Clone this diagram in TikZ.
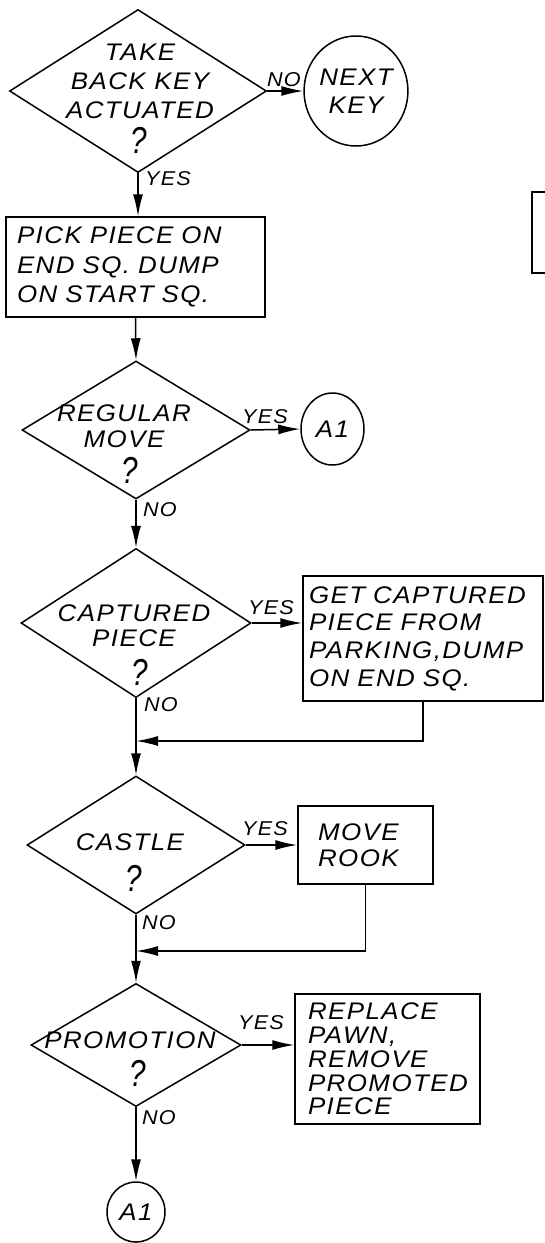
\documentclass[tikz,border=0pt]{standalone}
\usepackage{fontspec}
\setmainfont{Liberation Sans}
\newfontfamily\hand[FakeStretch=1.08,LetterSpace=6]{Liberation Sans}
\usetikzlibrary{shapes.geometric,arrows.meta}
\newcommand{\hf}[2]{\hand\itshape\fontsize{#1}{#2}\selectfont}
\newcommand{\qmk}{\scalebox{1.1}[1.5]{?}}
\begin{document}
\begin{tikzpicture}[x=1pt,y=-1pt,line width=1.5pt,
  dec/.style={draw,shape=diamond,inner sep=0pt},
  proc/.style={draw,rectangle,align=left,inner ysep=0pt},
  term/.style={draw,ellipse,inner sep=0pt,align=center,font=\hf{24}{28}},
  txt/.style={inner sep=0pt,align=center},
  qm/.style={inner sep=0pt,font=\hf{25}{25}},
  lbl/.style={inner sep=0pt,font=\hf{20}{20}},
  flow/.style={-{Latex[length=22pt,width=10pt]}}]
\useasboundingbox (0,0) rectangle (545,1243);

% decisions
\node[dec,minimum width=257pt,minimum height=163pt] (d1) at (138,91) {};
\node[txt,font=\hf{24}{29}] (d1t) at (140,81) {TAKE\\BACK KEY\\ACTUATED};
\node[qm] (d1q) at (139,140) {\qmk};

\node[term,minimum width=102pt,minimum height=110pt] (nk) at (356,91) {NEXT\\KEY};

\node[proc,minimum width=259pt,minimum height=100pt,inner xsep=11pt,text width=237pt,font=\hf{24}{29.5}] (b1) at (135.5,267) {PICK PIECE ON\\END SQ. DUMP\\ON START SQ.};

\node[dec,minimum width=228pt,minimum height=138pt] (d2) at (136,430) {};
\node[txt,font=\hf{24}{26}] (d2t) at (124,426) {REGULAR\\MOVE};
\node[qm] (d2q) at (130,470) {\qmk};
\node[term,minimum width=63pt,minimum height=72pt] (a1) at (332.5,429) {A1};

\node[dec,minimum width=230pt,minimum height=149pt] (d3) at (136,623) {};
\node[txt,font=\hf{24}{25}] (d3t) at (134,625.5) {CAPTURED\\PIECE};
\node[qm] (d3q) at (140,672) {\qmk};

\node[proc,minimum width=240pt,minimum height=125pt,inner xsep=6pt,text width=228pt,font=\hf{24}{27.7}] (b2) at (423,638.5) {GET CAPTURED\\PIECE FROM\\PARKING,DUMP\\ON END SQ.};

\node[dec,minimum width=218pt,minimum height=138pt] (d4) at (136,845) {};
\node[txt,font=\hf{24}{26}] (d4t) at (130,842) {CASTLE};
\node[qm] (d4q) at (134,878) {\qmk};

\node[proc,minimum width=135pt,minimum height=78pt,inner xsep=20pt,text width=95pt,font=\hf{24}{26}] (b3) at (365.5,845) {MOVE\\ROOK};

\node[dec,minimum width=210pt,minimum height=123pt] (d5) at (136,1045) {};
\node[txt,font=\hf{24}{26}] (d5t) at (130,1040) {PROMOTION};
\node[qm] (d5q) at (138,1073) {\qmk};

\node[proc,minimum width=185pt,minimum height=130pt,inner xsep=13pt,text width=159pt,font=\hf{24}{23.75}] (b4) at (387.5,1059) {REPLACE\\PAWN,\\REMOVE\\PROMOTED\\PIECE};

\node[term,minimum width=58pt,minimum height=60pt] (a2) at (136,1212) {A1};

% labels
\node[lbl] (l1) at (284,80) {NO};
\node[lbl] (l2) at (168,179) {YES};
\node[lbl] (l3) at (265,417) {YES};
\node[lbl] (l4) at (160,510) {NO};
\node[lbl] (l5) at (271,608) {YES};
\node[lbl] (l6) at (161,705) {NO};
\node[lbl] (l7) at (265,829) {YES};
\node[lbl] (l8) at (159,923) {NO};
\node[lbl] (l9) at (261,1023) {YES};
\node[lbl] (l10) at (159,1118) {NO};

\coordinate (m1) at (136,741);
\coordinate (m2) at (136,951);

% connectors
\draw[flow] (d1.east) -- (nk.west);
\draw[flow] (d1.south) -- (d1.south |- b1.north);
\draw[flow] (b1.south) -- (d2.north);
\draw[flow] (d2.east) -- (a1.west);
\draw[flow] (d2.south) -- (d3.north);
\draw[flow] (d3.east) -- (d3.east -| b2.west);
\draw[flow] (b2.south) |- (m1);
\draw[flow] (d3.south) -- (d4.north);
\draw[flow] (d4.east) -- (b3.west);
\draw[flow] (b3.south) |- (m2);
\draw[flow] (d4.south) -- (d5.north);
\draw[flow] (d5.east) -- (d5.east -| b4.west);
\draw[flow] (d5.south) -- (a2.north);

% partly visible box at the right edge
\draw (545,192) -| (532,273) -- (545,273);
\end{tikzpicture}
\end{document}
